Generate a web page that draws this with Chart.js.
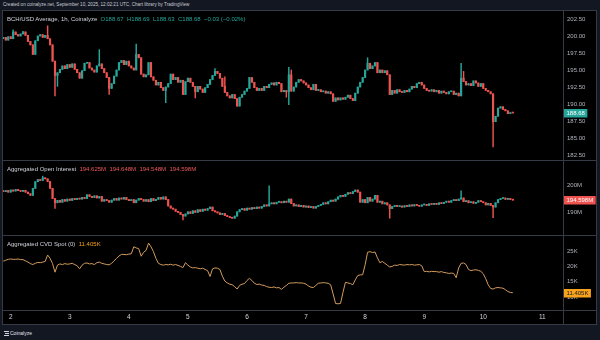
<!DOCTYPE html>
<html lang="en">
<head>
<meta charset="utf-8">
<title>BCH/USD Coinalyze</title>
<script src="https://cdn.jsdelivr.net/npm/chart.js@4.4.0/dist/chart.umd.min.js"></script>
<style>
  body { margin:0; width:600px; height:340px; background:#131722; overflow:hidden; position:relative;
         font-family:"Liberation Sans", Arial, sans-serif; }
  .frame { position:absolute; left:2px; top:10px; width:595px; height:315px; box-sizing:border-box;
           background:#000; border:1px solid #363a45; }
  canvas { position:absolute; }
  .line { position:absolute; background:#363a45; }
  .txt { position:absolute; white-space:nowrap; color:#d1d4dc; }
</style>
</head>
<body>

<div class="txt" style="left:3px;top:2px;font-size:4.6px;line-height:5px;color:#c8cbd3">Created on coinalyze.net, September 10, 2025, 12:02:21 UTC, Chart library by TradingView</div>
<div class="frame"></div>

<canvas id="c1" width="593" height="149" style="left:3px;top:11px;width:593px;height:149px"></canvas>
<canvas id="c2" width="593" height="74" style="left:3px;top:161px;width:593px;height:74px"></canvas>
<canvas id="c3" width="593" height="88" style="left:3px;top:236px;width:593px;height:88px"></canvas>

<div class="line" style="left:563px;top:11px;width:1px;height:313px"></div>
<div class="line" style="left:3px;top:160px;width:593px;height:1px"></div>
<div class="line" style="left:3px;top:235px;width:593px;height:1px"></div>
<div class="line" style="left:3px;top:310px;width:593px;height:1px"></div>

<div class="txt" style="left:7px;top:16px;font-size:6px;line-height:6px">BCH/USD Average, 1h, Coinalyze&nbsp; <span style="color:#26a69a">O188.67&nbsp; H188.69&nbsp; L188.63&nbsp; C188.68&nbsp; −0.03 (−0.02%)</span></div>
<div class="txt" style="left:7px;top:166px;font-size:6px;line-height:6px">Aggregated Open Interest&nbsp; <span style="color:#f0585a">194.625M&nbsp; 194.648M&nbsp; 194.548M&nbsp; 194.598M</span></div>
<div class="txt" style="left:7px;top:241px;font-size:6px;line-height:6px">Aggregated CVD Spot (0)&nbsp; <span style="color:#f7a21b">11.405K</span></div>

<div style="position:absolute;left:4px;top:331px;width:5px;height:1px;background:#d1d4dc"></div>
<div style="position:absolute;left:5px;top:333px;width:4px;height:1px;background:#d1d4dc"></div>
<div style="position:absolute;left:4px;top:335px;width:5px;height:1px;background:#d1d4dc"></div>
<div class="txt" style="left:10px;top:330px;font-size:5px;line-height:6px;color:#e0e3eb">Coinalyze</div>

<script>
// hourly candles, first one at Sep 1 21:00 UTC (hour -3 relative to Sep 2 00:00)
var startHour = -3;

var priceClose = [
  199.8,199.4,199.9,199.6,200.6,200.2,200.0,200.3,200.6,200.1,
  199.2,198.7,197.3,199.3,200.0,200.2,199.8,200.1,199.6,198.7,
  196.3,194.2,194.6,195.1,195.6,195.2,195.8,195.4,195.9,195.1,
  194.6,193.8,194.9,196.0,196.1,195.3,195.0,194.7,195.6,195.9,
  195.2,194.6,193.9,192.3,193.0,194.1,195.0,196.1,196.4,195.8,
  196.3,195.6,195.3,195.0,197.3,196.8,194.4,194.0,194.3,196.1,
  194.0,193.5,192.8,193.2,192.4,192.0,192.5,193.0,194.4,193.6,
  193.9,193.2,193.5,191.4,193.3,193.8,193.2,192.6,191.8,192.6,
  192.2,191.7,192.4,192.9,193.6,194.2,194.8,194.5,193.8,192.6,
  191.7,191.2,190.9,191.4,190.8,189.7,191.0,191.4,191.9,192.3,
  193.9,193.2,192.4,192.0,192.3,192.0,192.6,192.4,192.9,193.1,
  192.8,193.2,193.0,191.8,192.0,191.8,194.3,191.9,192.5,193.2,
  193.6,193.4,193.1,192.8,192.4,192.1,192.9,192.0,192.1,191.8,
  191.9,191.6,191.8,191.5,190.4,190.9,190.6,190.9,190.7,191.0,
  191.3,190.8,190.5,191.6,192.5,193.2,193.9,195.0,196.0,195.2,
  195.6,196.1,194.6,195.0,194.6,194.9,194.3,191.4,192.0,191.6,
  192.1,191.8,191.7,192.0,191.8,192.2,192.6,192.4,193.0,193.2,
  192.8,192.3,192.0,191.9,192.1,191.8,192.0,191.6,191.9,191.7,
  191.5,191.8,191.9,191.4,191.6,191.2,193.8,193.3,192.8,193.0,
  192.7,193.4,193.1,192.6,193.0,192.3,192.0,191.8,191.5,187.4,
  188.2,189.4,189.6,189.2,189.0,188.6,188.7,188.68
];
var priceFirstOpen = 199.6;
// notable wicks: [candle index, high, low]
var priceWicks = [
  [4,200.9,null],[8,200.7,null],[18,201.5,null],[21,null,191.2],[22,null,192.6],
  [39,198.0,null],[43,null,191.4],[54,198.8,null],[66,null,190.2],[78,null,190.9],
  [86,195.2,null],[90,194.0,null],[115,null,191.0],[116,195.4,189.9],[117,195.0,null],
  [148,196.8,null],[186,196.0,null],[187,194.8,null],[199,null,183.7]
];

var oiClose = [
  197.8,198.2,197.6,198.4,198.0,198.6,198.2,197.9,198.3,197.6,
  197.0,196.4,199.0,201.5,202.3,202.0,203.0,202.6,201.6,199.0,
  195.2,193.6,194.5,193.8,194.8,194.2,195.0,194.5,195.2,194.8,
  195.3,195.0,195.6,195.2,196.6,196.0,195.6,196.2,195.4,196.0,
  194.2,194.8,194.4,193.8,194.6,195.2,194.6,195.4,195.0,195.6,
  194.8,194.4,194.8,193.6,194.6,195.2,194.8,194.2,194.8,194.0,
  195.2,194.4,194.9,195.6,195.0,195.8,194.8,192.4,191.6,191.2,
  190.4,190.0,189.2,188.6,189.4,190.2,189.6,190.6,190.0,191.0,
  190.4,191.2,190.8,191.4,192.0,190.6,190.2,189.8,189.2,189.6,
  188.8,188.4,188.0,187.8,188.6,190.2,191.0,191.4,190.8,191.6,
  191.2,191.8,191.4,192.0,191.6,192.2,192.8,192.4,193.2,193.6,
  193.2,193.8,194.0,193.6,194.2,193.8,195.0,193.3,192.4,192.8,
  192.2,192.6,192.0,192.4,191.8,192.2,191.6,192.2,192.6,193.0,
  193.6,193.2,194.0,194.6,194.2,195.0,195.8,196.4,196.0,196.8,
  197.4,197.0,197.8,198.4,197.6,193.8,194.8,193.6,195.6,194.2,
  195.0,196.4,193.8,194.2,193.2,193.6,192.8,191.4,192.2,192.6,
  192.2,192.4,192.0,192.5,192.2,192.8,192.4,192.9,192.6,192.3,
  192.8,193.0,192.6,193.2,193.0,193.4,193.0,193.6,193.3,193.8,
  194.2,193.8,194.4,194.8,194.4,195.0,195.4,194.0,194.4,193.6,
  194.0,193.4,193.8,194.4,194.0,193.6,192.8,193.4,192.6,192.0,
  193.6,194.8,195.2,195.4,194.9,195.2,194.8,194.598
];
var oiFirstOpen = 198.2;
var oiWicks = [
  [16,203.6,null],[21,null,191.5],[73,null,187.2],[108,200.0,null],
  [157,null,187.8],[186,198.1,null],[199,null,188.0]
];

var cvd = [
  21.7,22.0,22.3,22.4,22.3,22.3,22.4,22.2,22.2,21.8,
  21.4,20.9,20.6,21.0,21.3,21.2,21.4,21.6,23.7,22.6,
  20.9,18.1,20.4,20.8,20.6,20.9,20.7,20.8,21.0,20.6,
  20.2,19.2,20.4,21.0,21.1,20.8,20.9,20.6,21.2,21.4,
  21.0,20.8,20.6,20.5,21.0,21.8,22.6,23.4,23.9,23.9,
  23.8,24.0,24.1,26.4,26.0,25.8,23.3,24.6,25.2,27.6,
  26.4,24.8,22.6,21.0,20.6,20.4,20.6,20.5,20.7,20.4,
  20.6,20.3,20.0,19.6,21.2,20.4,19.8,19.5,19.6,19.4,
  19.2,19.4,19.0,18.6,16.7,19.2,19.5,19.4,19.0,16.8,
  15.2,14.6,14.2,14.0,13.4,12.6,13.8,14.2,14.4,15.4,
  16.1,15.4,14.5,14.1,14.2,13.9,13.8,13.4,13.2,13.1,
  13.3,13.0,13.1,12.5,13.2,13.8,14.5,14.6,14.6,14.7,
  14.6,14.6,14.5,14.2,13.6,13.2,13.1,13.8,14.5,14.6,
  14.7,14.6,14.5,14.0,11.0,7.9,7.8,7.9,11.5,14.8,
  14.6,14.4,14.0,15.6,17.0,17.2,17.3,20.5,24.6,24.8,
  24.5,24.7,22.8,21.2,21.6,21.0,20.4,19.8,20.0,20.4,
  20.3,20.6,20.5,20.4,20.6,20.5,20.6,20.4,20.5,20.6,
  20.2,18.3,18.4,18.2,18.4,18.3,18.3,18.1,18.3,18.0,
  17.9,17.7,17.8,17.7,16.3,19.5,21.0,21.1,20.6,19.0,
  18.6,18.8,18.9,18.7,18.4,17.6,16.0,14.0,12.8,12.6,
  13.0,13.1,13.0,12.9,12.4,11.8,11.5,11.405
];

var priceTicks = [182.5,185,187.5,190,192.5,195,197.5,200,202.5];
var oiTicks = [190,200];
var cvdTicks = [10,15,20,25];
var dayHours = [0,24,48,72,96,120,144,168,192,216];
var dayLabels = ['2','3','4','5','6','7','8','9','10','11'];

var UP = '#26a69a', DOWN = '#ef5350';
var xMin = -3.13, xMax = 224.4;
var FONT = '"Liberation Sans", Arial, sans-serif';

function candles(close, firstOpen, wicks) {
  var bodies = [], sticks = [], colors = [];
  var hi = {}, lo = {};
  wicks.forEach(function (w) { hi[w[0]] = w[1]; lo[w[0]] = w[2]; });
  for (var i = 0; i < close.length; i++) {
    var o = i === 0 ? firstOpen : close[i - 1];
    var c = close[i];
    var h = hi[i] != null ? hi[i] : Math.max(o, c);
    var l = lo[i] != null ? lo[i] : Math.min(o, c);
    var x = startHour + i;
    bodies.push({ x: x, y: [o, c] });
    sticks.push({ x: x, y: [l, h] });
    colors.push(c >= o ? UP : DOWN);
  }
  return [
    { type: 'bar', data: bodies, backgroundColor: colors, barThickness: 1.5, minBarLength: 1, grouped: false, order: 1, borderWidth: 0 },
    { type: 'bar', data: sticks, backgroundColor: colors, barThickness: 0.8, grouped: false, order: 2, borderWidth: 0 }
  ];
}

function yScale(min, max, ticks, fmt) {
  return {
    type: 'linear', position: 'right', min: min, max: max, beginAtZero: false,
    grid: { display: false, drawTicks: false },
    border: { display: false },
    afterBuildTicks: function (s) { s.ticks = ticks.map(function (v) { return { value: v }; }); },
    afterFit: function (s) { s.width = 33; s.paddingTop = 0; s.paddingBottom = 0; },
    ticks: { color: '#b2b5be', padding: 4, font: { family: FONT, size: 6 }, callback: fmt }
  };
}

function xScale(show) {
  var sc = {
    type: 'linear', min: xMin, max: xMax, offset: false, display: show,
    grid: { display: false, drawTicks: false },
    border: { display: false },
    afterBuildTicks: function (s) { s.ticks = dayHours.map(function (v) { return { value: v }; }); },
    ticks: { color: '#d1d4dc', padding: 3, maxRotation: 0, autoSkip: false, font: { family: FONT, size: 6.5 },
             callback: function (v) { var k = dayHours.indexOf(v); return k < 0 ? '' : dayLabels[k]; } }
  };
  sc.afterFit = show
    ? function (s) { s.height = 14; s.paddingLeft = 0; s.paddingRight = 0; }
    : function (s) { s.height = 0; s.paddingLeft = 0; s.paddingRight = 0; };
  return sc;
}

function lastLabel(value, text, bg, fg) {
  return {
    id: 'lastLabel',
    afterDraw: function (chart) {
      var ctx = chart.ctx;
      var y = Math.round(chart.scales.y.getPixelForValue(value));
      var x0 = chart.chartArea.right + 1;
      ctx.save();
      ctx.font = '6px ' + FONT;
      var w = ctx.measureText(text).width + 5;
      ctx.fillStyle = bg;
      ctx.fillRect(x0, y - 4, w, 8.5);
      ctx.fillStyle = fg;
      ctx.textBaseline = 'middle';
      ctx.fillText(text, x0 + 2.5, y + 0.5);
      ctx.restore();
    }
  };
}

function opts(y, showX) {
  return {
    responsive: false, animation: false, events: [],
    layout: { padding: 0 },
    plugins: { legend: { display: false }, tooltip: { enabled: false } },
    scales: { x: xScale(showX), y: y }
  };
}

new Chart(document.getElementById('c1'), {
  type: 'bar',
  data: { datasets: candles(priceClose, priceFirstOpen, priceWicks) },
  options: opts(yScale(181.77, 203.68, priceTicks, function (v) { return v.toFixed(2); }), false),
  plugins: [lastLabel(188.68, '188.68', UP, '#ffffff')]
});

new Chart(document.getElementById('c2'), {
  type: 'bar',
  data: { datasets: candles(oiClose, oiFirstOpen, oiWicks) },
  options: opts(yScale(181.5, 209.3, oiTicks, function (v) { return v + 'M'; }), false),
  plugins: [lastLabel(194.598, '194.598M', DOWN, '#ffffff')]
});

new Chart(document.getElementById('c3'), {
  type: 'line',
  data: { datasets: [{
    data: cvd.map(function (v, i) { return { x: startHour + i, y: v }; }),
    borderColor: '#d39b5e', borderWidth: 1, pointRadius: 0, tension: 0, fill: false
  }] },
  options: opts(yScale(5.78, 29.9, cvdTicks, function (v) { return v + 'K'; }), true),
  plugins: [lastLabel(11.405, '11.405K', '#f7a21b', '#131722')]
});
</script>
</body>
</html>
